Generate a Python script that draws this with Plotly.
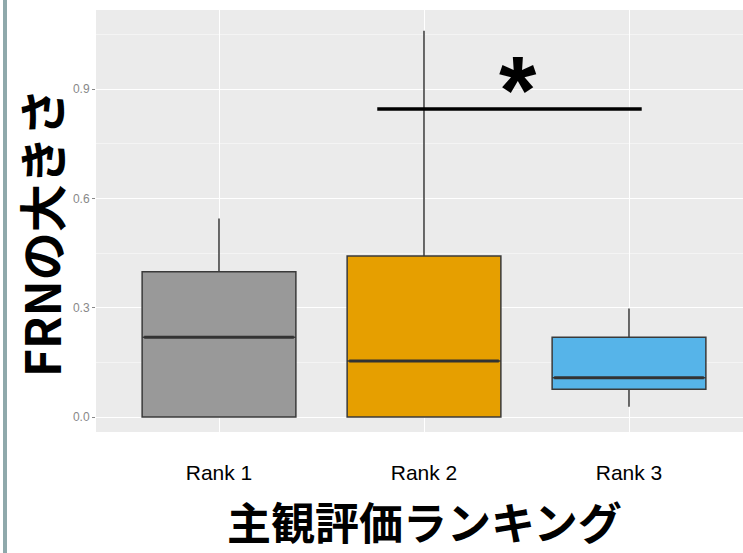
import plotly.graph_objects as go

# ---- data ----
categories = ["Rank 1", "Rank 2", "Rank 3"]
positions = [1, 2, 3]
q1 = [0.0, 0.0, 0.076]
median = [0.219, 0.154, 0.108]
q3 = [0.399, 0.442, 0.219]
lowerfence = [0.0, 0.0, 0.028]
upperfence = [0.545, 1.06, 0.298]
fill_colors = ["#999999", "#E69F00", "#56B4E9"]

sig_x = [1.772, 3.062]
sig_y = [0.845, 0.845]
sig_label = "*"
sig_label_x = 2.457

y_ticks = [0.0, 0.3, 0.6, 0.9]
y_tick_labels = ["0.0", "0.3", "0.6", "0.9"]

x_title = "主観評価ランキング"
y_title = "FRNの大きさ"

box_width = 0.75

W, H = 743, 553
L, R, T, B = 96, 0, 10, 121
pw = W - L - R
ph = H - T - B


def px_to_paper_x(px):
    return (px - L) / pw


def px_to_paper_y(py):
    return (H - B - py) / ph


fig = go.Figure()

for i in range(len(categories)):
    fig.add_trace(go.Box(
        x=[positions[i]],
        q1=[q1[i]], median=[median[i]], q3=[q3[i]],
        lowerfence=[lowerfence[i]], upperfence=[upperfence[i]],
        width=box_width,
        fillcolor=fill_colors[i],
        line=dict(color="#3a3a3a", width=1.5),
        whiskerwidth=0,
        boxpoints=False,
        showlegend=False,
        hoverinfo="skip",
    ))
    # thicker median line like ggplot
    fig.add_trace(go.Scatter(
        x=[positions[i] - box_width / 2 + 0.01, positions[i] + box_width / 2 - 0.01],
        y=[median[i], median[i]],
        mode="lines",
        line=dict(color="#333333", width=3),
        showlegend=False, hoverinfo="skip",
    ))

# significance bar
fig.add_trace(go.Scatter(
    x=sig_x, y=sig_y, mode="lines",
    line=dict(color="black", width=3.5),
    showlegend=False, hoverinfo="skip",
))
fig.add_annotation(
    x=sig_label_x, y=sig_y[0], xref="x", yref="y",
    text=sig_label, showarrow=False, xanchor="center", yanchor="bottom", yshift=-36,
    font=dict(family="Liberation Sans", size=96, color="black", weight="bold"),
)

fig.add_annotation(
    x=px_to_paper_x(40), y=px_to_paper_y(233), xref="paper", yref="paper",
    xanchor="center", yanchor="middle",
    text=y_title, showarrow=False, textangle=-90,
    font=dict(family="Noto Sans CJK JP", size=48, color="black", weight="bold"),
)

fig.add_annotation(
    x=px_to_paper_x(424), y=px_to_paper_y(521), xref="paper", yref="paper",
    xanchor="center", yanchor="middle",
    text=x_title, showarrow=False,
    font=dict(family="Noto Sans CJK JP", size=44, color="black", weight="bold"),
)

# left decorative bar
fig.add_shape(type="rect", xref="paper", yref="paper",
              x0=px_to_paper_x(3), x1=px_to_paper_x(7),
              y0=px_to_paper_y(H), y1=px_to_paper_y(0),
              fillcolor="#8FA9AB", line=dict(width=0), layer="above")

fig.update_layout(
    width=W, height=H,
    margin=dict(l=L, r=R, t=T, b=B, pad=0),
    paper_bgcolor="white",
    plot_bgcolor="#EBEBEB",
    showlegend=False,
    boxgap=0, boxgroupgap=0,
)

fig.update_xaxes(
    range=[0.4, 3.6 - 9 / 205], tickmode="array", tickvals=positions, ticktext=categories,
    showgrid=True, gridcolor="white", gridwidth=1.2, zeroline=False,
    ticks="", tickfont=dict(family="Liberation Sans", size=21, color="black"),
    ticklabelstandoff=26, showline=False, fixedrange=True,
)
fig.update_yaxes(
    range=[-0.041, 1.117], tickmode="array", tickvals=y_ticks, ticktext=y_tick_labels,
    showgrid=True, gridcolor="white", gridwidth=1.2, zeroline=False,
    ticks="outside", ticklen=3, tickcolor="#888888", tickwidth=1,
    tickfont=dict(family="Liberation Sans", size=12, color="#888888"),
    minor=dict(tickvals=[0.15, 0.45, 0.75, 1.05], showgrid=True, gridcolor="#F4F4F4", gridwidth=0.8, ticks=""),
    showline=False, fixedrange=True,
)

fig.write_html("out.html")
